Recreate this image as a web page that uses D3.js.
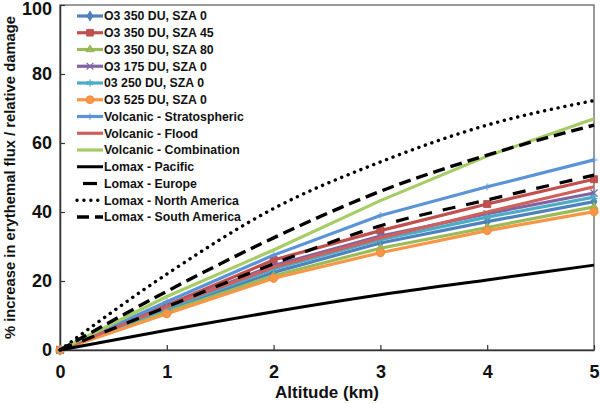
<!DOCTYPE html>
<html><head><meta charset="utf-8">
<script src="https://cdn.jsdelivr.net/npm/d3@7"></script>
<style>body{margin:0;background:#fff}svg{display:block;font-family:"Liberation Sans",Arial,sans-serif;font-weight:bold}</style>
</head><body><svg id="c" width="600" height="404"></svg>
<script>
const altitudes = [0, 1, 2, 3, 4, 5];
const xTicks = [0, 1, 2, 3, 4, 5];
const yTicks = [0, 20, 40, 60, 80, 100];
const seriesNames = ["O3 350 DU, SZA 0","O3 350 DU, SZA 45","O3 350 DU, SZA 80","O3 175 DU, SZA 0","03 250 DU, SZA 0","O3 525 DU, SZA 0","Volcanic - Stratospheric","Volcanic - Flood","Volcanic - Combination","Lomax - Pacific","Lomax - Europe","Lomax - North America","Lomax - South America"];
const o3_350_sza0  = [0, 11.5, 22.5, 31.0, 37.2, 43.0];
const o3_350_sza45 = [0, 13.0, 26.1, 34.6, 42.3, 49.5];
const o3_350_sza80 = [0, 11.0, 21.5, 29.5, 35.5, 41.5];
const o3_175_sza0  = [0, 12.5, 24.5, 33.0, 39.5, 45.5];
const o3_250_sza0  = [0, 12.0, 23.5, 32.0, 38.5, 44.3];
const o3_525_sza0  = [0, 10.5, 20.8, 28.2, 34.6, 40.1];
const volcStrat    = [0, 14.0, 27.5, 39.0, 47.3, 55.1];
const volcFlood    = [0, 12.5, 24.0, 32.5, 40.0, 47.3];
const volcComb     = [0, 15.5, 29.0, 43.3, 56.2, 67.0];
const lomaxPacific = [0, 5.7, 11.1, 16.0, 20.3, 24.6];
const lomaxEurope  = [0, 12.5, 25.0, 36.0, 43.5, 50.7];
const lomaxNAm     = [0, 22.0, 41.0, 54.5, 65.2, 72.3];
const lomaxSAm     = [0, 17.0, 32.5, 46.0, 56.5, 65.2];

const values = [o3_350_sza0,o3_350_sza45,o3_350_sza80,o3_175_sza0,o3_250_sza0,o3_525_sza0,volcStrat,volcFlood,volcComb,lomaxPacific,lomaxEurope,lomaxNAm,lomaxSAm];
const styles = [
 {c:"#4F81BD",w:3.2,m:"diamond"},
 {c:"#C0504D",w:3.2,m:"square"},
 {c:"#9BBB59",w:3.2,m:"triangle"},
 {c:"#8064A2",w:3.2,m:"x"},
 {c:"#4BACC6",w:3.2,m:"star"},
 {c:"#F79646",w:3.2,m:"circle"},
 {c:"#5B93D8",w:3.2,m:"plus"},
 {c:"#D0605C",w:3.2,m:null},
 {c:"#A5CC65",w:3.2,m:null},
 {c:"#000",w:3,m:null,dash:null},
 {c:"#000",w:3.2,m:null,dash:"13,11"},
 {c:"#000",w:3.4,m:null,dash:"0.1,6.8",cap:"round"},
 {c:"#000",w:3.4,m:null,dash:"12,6"}
];

const svg = d3.select("#c");
const m = {l:60, r:594, t:5, b:350};
const x = d3.scaleLinear().domain([0,5]).range([m.l, m.r]);
const y = d3.scaleLinear().domain([0,100]).range([m.b, m.t]);

svg.append("rect").attr("x",m.l).attr("y",m.t).attr("width",m.r-m.l).attr("height",m.b-m.t)
  .attr("fill","none").attr("stroke","#7a7a7a").attr("stroke-width",1.5);

const xAxis = svg.append("g").attr("transform",`translate(0,${m.b})`)
  .call(d3.axisBottom(x).tickValues(xTicks).tickSizeInner(-5).tickSizeOuter(0).tickPadding(15).tickFormat(d3.format("d")));
const yAxis = svg.append("g").attr("transform",`translate(${m.l},0)`)
  .call(d3.axisLeft(y).tickValues(yTicks).tickSizeInner(-5).tickSizeOuter(0).tickPadding(8).tickFormat(d3.format("d")));
[xAxis,yAxis].forEach(a=>{
  a.select(".domain").attr("stroke","#333").attr("stroke-width",1.5);
  a.selectAll(".tick line").attr("stroke","#333").attr("stroke-width",1.2);
  a.selectAll("text").attr("font-size",18).attr("font-weight","bold").attr("fill","#111")
   .attr("font-family","'Liberation Sans',Arial,sans-serif");
});
yAxis.selectAll(".tick").filter(d=>d===100).select("text").attr("dy","0.55em");

svg.append("text").attr("x",(m.l+m.r)/2).attr("y",398).attr("text-anchor","middle")
  .attr("font-size",17).attr("fill","#111").text("Altitude (km)");
svg.append("text").attr("transform",`translate(15,${(m.t+m.b)/2}) rotate(-90)`).attr("text-anchor","middle")
  .attr("font-size",14.8).attr("fill","#111").text("% increase in erythemal flux / relative damage");

function marker(g, type, cx, cy, color, s){
  const sym = {diamond:d3.symbolDiamond, square:d3.symbolSquare, triangle:d3.symbolTriangle, circle:d3.symbolCircle, x:d3.symbolX, star:d3.symbolAsterisk, plus:d3.symbolCross};
  if(!type) return;
  const size = {diamond:32,square:50,triangle:30,circle:55,x:35,star:40,plus:25}[type]*s;
  const p = g.append("path").attr("d",d3.symbol().type(sym[type]).size(size)()).attr("transform",`translate(${cx},${cy})`);
  if(type==="x"||type==="star") p.attr("fill","none").attr("stroke",color).attr("stroke-width",1.3);
  else if(type==="plus") p.attr("fill",color).attr("stroke","none").attr("opacity",0.5);
  else p.attr("fill",color).attr("stroke",d3.color(color).darker(0.2)).attr("stroke-width",0.8);
}

const line = d3.line().x((d,i)=>x(altitudes[i])).y(d=>y(d));
const smooth = d3.line().x((d,i)=>x(altitudes[i])).y(d=>y(d)).curve(d3.curveMonotoneX);

const plot = svg.append("g");
values.forEach((v,i)=>{
  const st = styles[i];
  const g = plot.append("g");
  g.append("path").attr("d",(i>=9?smooth:line)(v)).attr("fill","none").attr("stroke",st.c)
    .attr("stroke-width",st.w).attr("stroke-dasharray",st.dash||null).attr("stroke-linecap",st.cap||"butt")
    .attr("stroke-linejoin","round");
  v.forEach((d,k)=>marker(g, st.m, x(altitudes[k]), y(d), st.c, 1));
});

const lg = svg.append("g");
seriesNames.forEach((n,i)=>{
  const st = styles[i];
  const yy = 16 + i*16.75;
  const g = lg.append("g");
  let x1=77, x2=103;
  if(i===10){x1=83; x2=97;}
  g.append("line").attr("x1",x1).attr("x2",x2).attr("y1",yy).attr("y2",yy).attr("stroke",st.c)
    .attr("stroke-width",st.w).attr("stroke-dasharray",i===10?null:(st.dash||null)).attr("stroke-linecap",st.cap||"butt");
  marker(g, st.m, 90, yy, st.c, 0.9);
  g.append("text").attr("x",104).attr("y",yy+4.3).attr("font-size",12.3).attr("fill","#111").text(n);
});
</script></body></html>
